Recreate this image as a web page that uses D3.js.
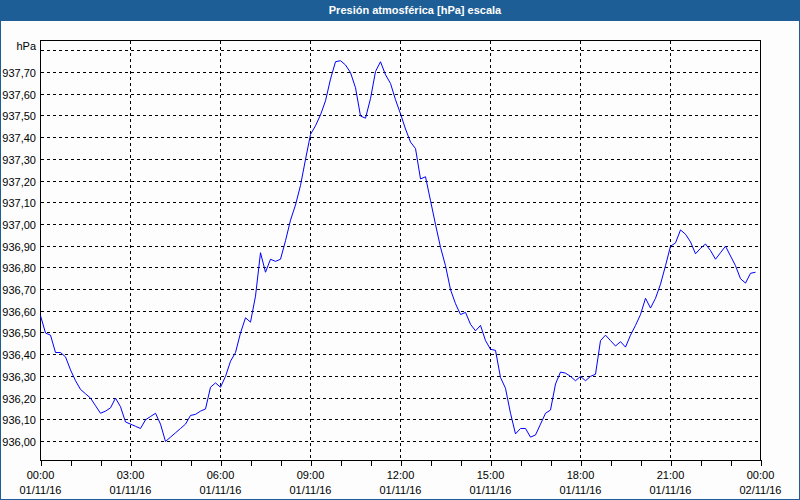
<!DOCTYPE html>
<html>
<head>
<meta charset="utf-8">
<script src="https://cdn.jsdelivr.net/npm/d3@7"></script>
<style>
  html, body { margin: 0; padding: 0; background: #fcfdfc; }
  svg { display: block; font-family: "Liberation Sans", Arial, sans-serif; }
</style>
</head>
<body>
<script>
// ---- data ----
const titleText = "Presión atmosférica [hPa] escala";
const unitLabel = "hPa";
const dayStart = "2016-11-01T00:00";
const dayEnd = "2016-11-02T00:00";

const times = [
  "00:00","00:10","00:20","00:30","00:40","00:50",
  "01:00","01:10","01:20","01:30","01:40","01:50",
  "02:00","02:10","02:20","02:30","02:40","02:50",
  "03:00","03:10","03:20","03:30","03:40","03:50",
  "04:00","04:10","04:20","04:30","04:40","04:50",
  "05:00","05:10","05:20","05:30","05:40","05:50",
  "06:00","06:10","06:20","06:30","06:40","06:50",
  "07:00","07:10","07:20","07:30","07:40","07:50",
  "08:00","08:10","08:20","08:30","08:40","08:50",
  "09:00","09:10","09:20","09:30","09:40","09:50",
  "10:00","10:10","10:20","10:30","10:40","10:50",
  "11:00","11:10","11:20","11:30","11:40","11:50",
  "12:00","12:10","12:20","12:30","12:40","12:50",
  "13:00","13:10","13:20","13:30","13:40","13:50",
  "14:00","14:10","14:20","14:30","14:40","14:50",
  "15:00","15:10","15:20","15:30","15:40","15:50",
  "16:00","16:10","16:20","16:30","16:40","16:50",
  "17:00","17:10","17:20","17:30","17:40","17:50",
  "18:00","18:10","18:20","18:30","18:40","18:50",
  "19:00","19:10","19:20","19:30","19:40","19:50",
  "20:00","20:10","20:20","20:30","20:40","20:50",
  "21:00","21:10","21:20","21:30","21:40","21:50",
  "22:00","22:10","22:20","22:30","22:40","22:50",
  "23:00","23:10","23:20","23:30","23:40","23:50"
];

const pressure = [
  936.58, 936.50, 936.49, 936.41, 936.41, 936.39,
  936.33, 936.28, 936.24, 936.22, 936.20, 936.165,
  936.13, 936.14, 936.155, 936.20, 936.16, 936.09,
  936.08, 936.07, 936.06, 936.10, 936.115, 936.13,
  936.08, 936.00, 936.02, 936.04, 936.06, 936.08,
  936.12, 936.125, 936.14, 936.15, 936.25, 936.27,
  936.25, 936.30, 936.37, 936.41, 936.50, 936.57,
  936.55, 936.67, 936.87, 936.78, 936.84, 936.83,
  936.84, 936.925, 937.02, 937.09, 937.18, 937.30,
  937.415, 937.455, 937.505, 937.57, 937.67, 937.75,
  937.755, 937.735, 937.70, 937.63, 937.50, 937.49,
  937.58, 937.705, 937.75, 937.69, 937.65, 937.575,
  937.51, 937.44, 937.38, 937.35, 937.21, 937.22,
  937.11, 937.00, 936.895, 936.81, 936.70, 936.635,
  936.585, 936.595, 936.54, 936.51, 936.535, 936.465,
  936.425, 936.42, 936.295, 936.245, 936.13, 936.035,
  936.06, 936.06, 936.02, 936.03, 936.08, 936.13,
  936.145, 936.265, 936.32, 936.315, 936.30, 936.28,
  936.30, 936.28, 936.30, 936.31, 936.465, 936.49,
  936.465, 936.44, 936.46, 936.435, 936.49, 936.535,
  936.585, 936.66, 936.615, 936.66, 936.725, 936.81,
  936.90, 936.915, 936.975, 936.955, 936.92, 936.865,
  936.89, 936.91, 936.88, 936.84, 936.87, 936.90,
  936.855, 936.81, 936.75, 936.73, 936.775, 936.78
];

const yTicks = [936.0, 936.1, 936.2, 936.3, 936.4, 936.5, 936.6, 936.7, 936.8, 936.9,
                937.0, 937.1, 937.2, 937.3, 937.4, 937.5, 937.6, 937.7, 937.8];
const yDomain = [935.9124, 937.8479];
const xLabelTimes = ["00:00","03:00","06:00","09:00","12:00","15:00","18:00","21:00","00:00"];
const xLabelDates = ["01/11/16","01/11/16","01/11/16","01/11/16","01/11/16","01/11/16","01/11/16","01/11/16","02/11/16"];

// ---- chart ----
const W = 800, H = 500;
const plot = { left: 40.5, right: 760.5, top: 40.5, bottom: 460.5 };
const blue = "#1e5e96";

const parse = d3.timeParse("%Y-%m-%dT%H:%M");
const t0 = parse(dayStart), t1 = parse(dayEnd);
const data = times.map((t, i) => ({ t: parse("2016-11-01T" + t), v: pressure[i] }));

const x = d3.scaleTime().domain([t0, t1]).range([plot.left, plot.right]);
const y = d3.scaleLinear().domain(yDomain).range([plot.bottom, plot.top]);
const snap = p => Math.round(p - 0.5) + 0.5;

const svg = d3.select("body").append("svg").attr("width", W).attr("height", H);

svg.append("rect").attr("x", 0).attr("y", 0).attr("width", W).attr("height", H).attr("fill", "#fcfdfc");
svg.append("rect").attr("x", 0).attr("y", 0).attr("width", W).attr("height", 21).attr("fill", blue);
svg.append("rect").attr("x", 0.5).attr("y", 0.5).attr("width", W - 1).attr("height", H - 1)
  .attr("fill", "none").attr("stroke", blue).attr("stroke-width", 1);

svg.append("text").attr("x", 415).attr("y", 14).attr("text-anchor", "middle")
  .attr("fill", "#ffffff").attr("font-weight", "bold").attr("font-size", "11px").text(titleText);

// grid
const grid = svg.append("g").attr("stroke", "#000").attr("stroke-width", 1)
  .attr("stroke-dasharray", "3,3").attr("shape-rendering", "crispEdges");
grid.selectAll("line.h").data(yTicks).join("line").attr("class", "h")
  .attr("x1", plot.left).attr("x2", plot.right)
  .attr("y1", d => snap(y(d))).attr("y2", d => snap(y(d)));
const vTicks = x.ticks(d3.timeHour.every(3)).filter(d => +d !== +t0 && +d !== +t1);
grid.selectAll("line.v").data(vTicks).join("line").attr("class", "v")
  .attr("y1", plot.top).attr("y2", plot.bottom)
  .attr("x1", d => snap(x(d))).attr("x2", d => snap(x(d)));

// x axis ticks (hourly)
const xAxis = d3.axisBottom(x).ticks(d3.timeHour.every(1)).tickSize(6).tickFormat("");
const gx = svg.append("g").attr("transform", `translate(0,${plot.bottom - 0.5})`).call(xAxis);
gx.select(".domain").remove();
gx.selectAll("line").attr("stroke", "#000").attr("shape-rendering", "crispEdges");

// frame
svg.append("rect").attr("x", plot.left).attr("y", plot.top)
  .attr("width", plot.right - plot.left).attr("height", plot.bottom - plot.top)
  .attr("fill", "none").attr("stroke", "#000").attr("shape-rendering", "crispEdges");

// y labels
const fmt = d => d3.format(".2f")(d).replace(".", ",");
svg.append("g").selectAll("text").data(yTicks.filter(d => d < 937.75)).join("text")
  .attr("x", 36).attr("y", d => snap(y(d)) + 4.5).attr("text-anchor", "end")
  .attr("font-size", "11px").attr("fill", "#000").text(fmt);
svg.append("text").attr("x", 36).attr("y", 50).attr("text-anchor", "end")
  .attr("font-size", "11px").attr("fill", "#000").text(unitLabel);

// x labels
const labelTimes = x.ticks(d3.timeHour.every(3));
const gl = svg.append("g").attr("font-size", "11px").attr("fill", "#000").attr("text-anchor", "middle");
gl.selectAll("text.tm").data(labelTimes).join("text").attr("class", "tm")
  .attr("x", d => snap(x(d))).attr("y", 479).text((d, i) => xLabelTimes[i]);
gl.selectAll("text.dt").data(labelTimes).join("text").attr("class", "dt")
  .attr("x", d => snap(x(d))).attr("y", 494).text((d, i) => xLabelDates[i]);

// series line
const line = d3.line().x(d => x(d.t)).y(d => y(d.v));
svg.append("path").datum(data).attr("d", line)
  .attr("fill", "none").attr("stroke", "#0000ff").attr("stroke-width", 1);
</script>
</body>
</html>
